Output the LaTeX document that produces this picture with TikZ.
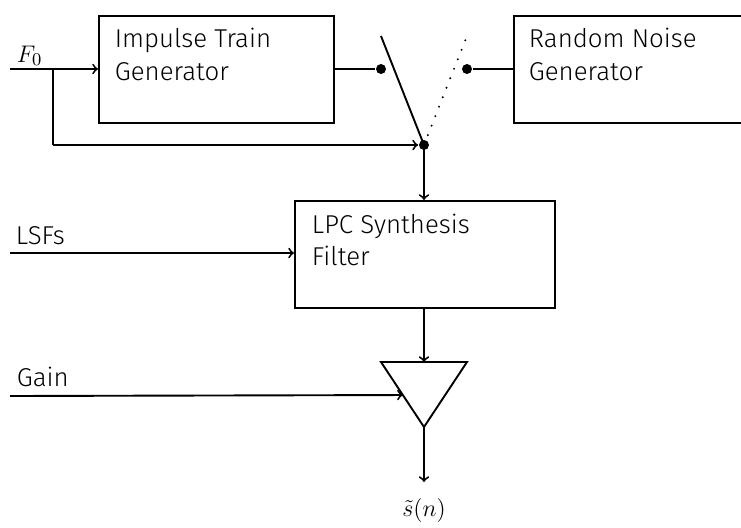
\documentclass[tikz,border=0pt]{standalone}
\usepackage{fontspec}
\setmainfont{Fira Sans Light}
\usetikzlibrary{calc}
\begin{document}
\begin{tikzpicture}[x=0.5pt,y=-0.5pt,
  line width=0.95pt, >=to,
  box/.style={draw, rectangle, inner sep=0pt, anchor=north west},
  txt/.style={anchor=base west, inner sep=0pt, font=\fontsize{12.9}{15}\selectfont},
  dot/.style={circle, fill, inner sep=0pt, minimum size=5pt},
  lab/.style={anchor=base west, inner sep=0pt, font=\fontsize{12.9}{15}\selectfont}]
\useasboundingbox (0,0) rectangle (741,527);
% boxes
\node[box, minimum width=117.5pt, minimum height=53.5pt] (itg) at (98,15) {};
\node[box, minimum width=117.5pt, minimum height=53.5pt] (rng) at (513,15) {};
\node[box, minimum width=130pt, minimum height=53.5pt] (lpc) at (294,200) {};
\node[txt] (itg1) at (114,47) {Impulse Train};
\node[txt] (itg2) at (114,80) {Generator};
\node[txt] (rng1) at (528,47) {Random Noise};
\node[txt] (rng2) at (528,80) {Generator};
\node[txt] (lpc1) at (311,233) {LPC Synthesis};
\node[txt] (lpc2) at (311,265) {Filter};
% labels
\node[lab] (f0) at (16,62) {$F_0$};
\node[lab] (lsf) at (15,244) {LSFs};
\node[lab] (gain) at (16,386) {Gain};
\node[anchor=base, inner sep=0pt, font=\fontsize{12.9}{15}\selectfont] (out) at (424,516) {$\tilde{s}(n)$};
% coordinates
\coordinate (f0s) at (10,69);
\coordinate (br) at (53,69);
\coordinate (brd) at (53,145);
\coordinate (lsfs) at (10,253);
\coordinate (gs) at (10,396);
\coordinate (sw) at (424,145);
\coordinate (swtop) at (381,36);
\coordinate (dtop) at (467,36);
\coordinate (tl) at (381,362);
\coordinate (tr) at (467,362);
\coordinate (tb) at (424,427);
\coordinate (oute) at (424,482);
% dots
\node[dot] (d1) at (381,69) {};
\node[dot] (d2) at (467,69) {};
\node[dot] (d3) at (sw) {};
% connectors
\draw[->] (f0s) -- (itg.west |- f0s);
\draw (br) -- (brd);
\draw[->] (brd) -- (d3.west);
\draw (itg.east |- d1) -- (d1);
\draw (d2) -- (rng.west |- d2);
\draw (swtop) -- (sw);
\draw[line width=1.1pt, line cap=round, dash pattern=on 0pt off 5.1pt] ($(sw)!0.09!(dtop)$) -- (dtop);
\draw[->] (sw) -- (lpc.north -| sw);
\draw[->] (lsfs) -- (lpc.west |- lsfs);
\draw[->] (lpc.south -| sw) -- (tl -| sw);
% amplifier
\draw (tl) -- (tr) -- (tb) -- cycle;
\draw[->] (gs) -- ($(tl)!0.508!(tb)$);
\draw[->] (tb) -- (oute);
\end{tikzpicture}
\end{document}
